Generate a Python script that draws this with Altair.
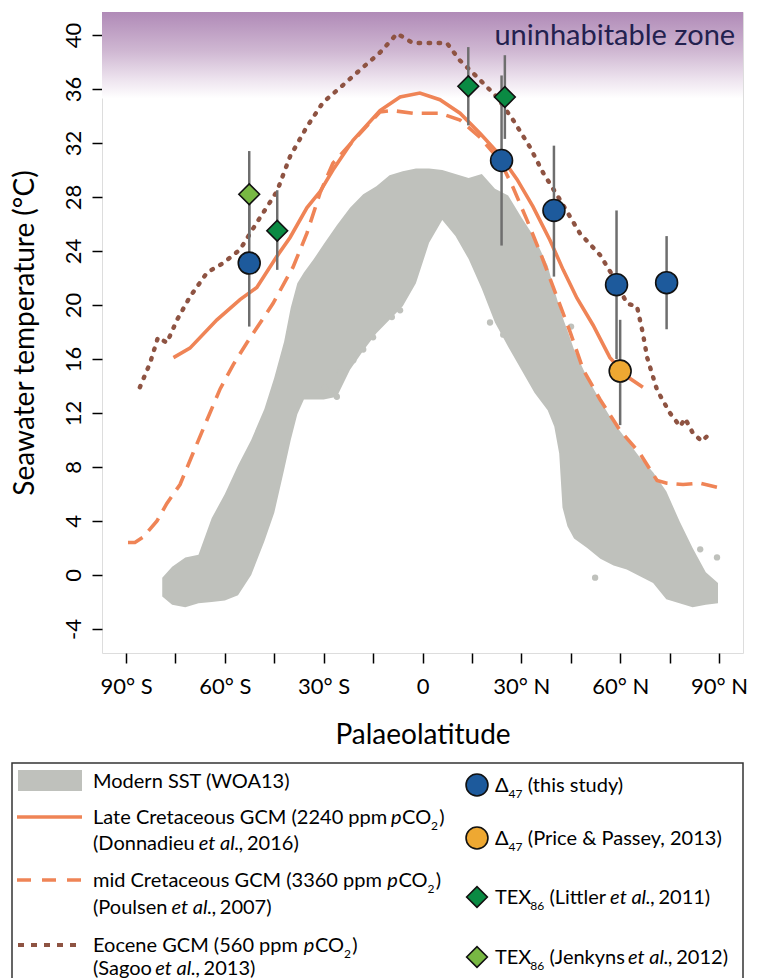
import altair as alt
import pandas as pd

FONT = "Lato"

# ---------------- data ----------------
# Modern SST cloud (WOA13): upper / lower envelope per latitude
cloud_lat = [-79, -76, -72, -68, -64, -60, -56, -52, -48, -45,
             -42, -40, -38, -36, -33, -30, -26, -22, -18, -14,
             -10, -6, -2, 2, 6, 10, 14, 18, 22, 26,
             30, 34, 38, 40, 41.5, 42.5, 44, 46, 50, 54,
             58, 62, 66, 70, 74, 78, 82, 86, 89.7]
cloud_hi = [-0.2, 0.6, 1.3, 1.5, 4.2, 6.0, 8.1, 10.0, 12.3, 14.6,
            17.3, 19.8, 21.6, 22.4, 23.4, 24.5, 25.9, 27.2, 28.2, 28.8,
            29.6, 29.9, 30.1, 30.1, 30.0, 29.7, 29.4, 29.7, 28.6, 28.1,
            26.5, 25.0, 22.9, 21.1, 19.9, 19.1, 18.1, 16.7, 14.6, 12.9,
            11.3, 10.0, 8.7, 7.6, 6.2, 4.0, 2.0, 0.2, -0.6]
cloud_lo = [-1.6, -2.2, -2.4, -2.1, -2.0, -1.9, -1.5, 0.0, 2.5, 4.6,
            7.8, 10.0, 11.9, 13.0, 13.0, 13.0, 13.2, 15.2, 16.6, 17.9,
            18.9, 19.9, 21.6, 24.6, 26.3, 25.1, 23.4, 21.2, 18.7, 16.9,
            15.2, 13.5, 12.2, 11.0, 9.0, 5.0, 3.6, 2.7, 2.0, 1.2,
            0.7, 0.4, -0.1, -0.6, -1.8, -2.1, -2.4, -2.2, -2.1]
# scattered single observations at the cloud edges
stray_lat = [-29.6, -26.0, -25.0, -21.0, -18.0, -15.0, -9.3, -6.8, 20.5, 24.5, 45.1, 52.4, 84.3, 89.4]
stray_t = [13.9, 13.2, 15.0, 15.9, 16.7, 17.6, 19.1, 19.6, 18.7, 17.8, 18.4, -0.2, 1.9, 1.3]

# Late Cretaceous GCM (solid)
late_lat = [-75.6, -70.6, -62.4, -55.4, -50.3, -44.2, -40.2, -35.1, -31.1, -27.2,
            -21.1, -12.9, -6.8, -0.8, 5.3, 11.4, 17.5, 23.5, 28.7, 33.5,
            38.7, 42.7, 46.9, 51.8, 56.9, 62.1, 66.9]
late_t = [16.1, 16.8, 18.9, 20.4, 21.3, 23.6, 25.0, 27.2, 28.4, 30.0,
          32.2, 34.4, 35.4, 35.7, 35.2, 34.2, 32.7, 31.1, 29.3, 27.3,
          24.8, 22.6, 20.5, 18.5, 16.1, 14.7, 13.9]

# mid Cretaceous GCM (dashed)
mid_lat = [-89.4, -87.3, -84.8, -80.6, -77.6, -73.6, -69.7, -65.4, -61.4, -57.4,
           -53.3, -45.4, -39.3, -35.1, -31.1, -27.2, -19.0, -12.9, -9.0, -2.9,
           5.3, 11.4, 17.5, 23.5, 27.5, 31.7, 35.7, 40.8, 44.8, 48.8,
           53.9, 60.0, 66.0, 71.2, 74.2, 79.1, 84.3, 89.4]
mid_t = [2.4, 2.4, 2.8, 4.0, 5.3, 6.7, 9.0, 11.5, 13.8, 15.6,
         17.2, 20.1, 22.8, 25.3, 28.3, 30.5, 32.7, 34.3, 34.4, 34.2,
         34.2, 33.7, 32.4, 30.7, 28.7, 26.3, 23.9, 20.6, 18.0, 15.2,
         13.0, 10.7, 9.0, 7.0, 6.8, 6.7, 6.8, 6.5]

# Eocene GCM (dotted)
eoc_lat = [-85.8, -82.7, -80.3, -77.6, -74.5, -70.6, -65.4, -60.5, -55.4, -50.3,
           -44.2, -40.2, -35.1, -30.2, -25.0, -19.0, -12.9, -7.7, -2.9, 3.2,
           7.4, 11.4, 16.5, 22.6, 27.5, 32.6, 36.6, 41.7, 47.8, 53.9,
           57.9, 62.1, 65.1, 66.9, 68.2, 71.2, 75.1, 78.2, 79.7, 82.1,
           84.8, 87.3]
eoc_t = [13.9, 15.7, 17.6, 17.2, 18.9, 20.6, 22.4, 23.1, 24.1, 26.1,
         28.4, 31.0, 33.2, 35.0, 36.1, 37.4, 38.7, 40.1, 39.4, 39.4,
         39.4, 38.1, 36.9, 35.4, 33.7, 31.7, 29.8, 27.8, 25.3, 23.7,
         22.1, 20.1, 19.9, 17.9, 16.1, 13.7, 12.0, 11.0, 11.6, 10.5,
         9.9, 10.5]

# proxy data: latitude, temperature, error-bar low / high
d47_lat = [-52.6, 24.0, 39.9, 58.9, 74.1]
d47_t = [23.1, 30.7, 27.0, 21.5, 21.65]
d47_lo = [18.4, 24.4, 22.1, 16.0, 18.2]
d47_hi = [27.8, 37.0, 31.8, 27.0, 25.1]

pp_lat = [60.0]
pp_t = [15.1]
pp_lo = [11.1]
pp_hi = [18.9]

lit_lat = [-44.1, 13.9, 25.0]
lit_t = [25.5, 36.2, 35.4]
lit_lo = [22.6, 33.3, 32.3]
lit_hi = [28.5, 39.1, 38.5]

jen_lat = [-52.6]
jen_t = [28.2]
jen_lo = [25.0]
jen_hi = [31.4]

zone_t = [35.3, 41.7]
zone_label = "uninhabitable zone"

x_tick_vals = [-90, -75, -60, -45, -30, -15, 0, 15, 30, 45, 60, 75, 90]
x_label_vals = [-90, -60, -30, 0, 30, 60, 90]
x_label_txt = ["90° S", "60° S", "30° S", "0", "30° N", "60° N", "90° N"]
y_tick_vals = [-4, 0, 4, 8, 12, 16, 20, 24, 28, 32, 36, 40]
y_label_txt = ["-4", "0", "4", "8", "12", "16", "20", "24", "28", "32", "36", "40"]

# ---------------- colours ----------------
C_CLOUD = "#bfc1bc"
C_ORANGE = "#ef8456"
C_BROWN = "#8e5342"
C_BLUE = "#1d5a9c"
C_YELLOW = "#eea832"
C_DGREEN = "#0a8a43"
C_LGREEN = "#78b843"
C_ERR = "#6e6e6e"
C_NAVY = "#23214f"

# ---------------- scales / axes ----------------
XDOM = [-97.29, 97.29]
YDOM = [-5.78, 41.70]
XS = alt.Scale(domain=XDOM, nice=False, zero=False)
YS = alt.Scale(domain=YDOM, nice=False, zero=False)


def expr_from(vals, txts):
    e = "''"
    for v, t in reversed(list(zip(vals, txts))):
        e = f"datum.value == {v} ? '{t}' : ({e})"
    return e


XAX = alt.Axis(values=x_tick_vals, labelExpr=expr_from(x_label_vals, x_label_txt),
               tickSize=10, tickWidth=1.5, tickColor="black", domain=False, grid=False,
               labelFont=FONT, labelFontSize=22, labelColor="black", labelPadding=30,
               labelBaseline="alphabetic", labelAlign="center", labelAngle=0,
               labelOverlap=False, labelBound=False, labelFlush=False,
               title="Palaeolatitude", titleFont=FONT, titleFontSize=28,
               titleFontWeight="normal", titleColor="black", titleX=320.5, titleY=90,
               titleBaseline="alphabetic", titleAlign="center")
YAX = alt.Axis(values=y_tick_vals, labelExpr=expr_from(y_tick_vals, y_label_txt),
               tickSize=10, tickWidth=1.5, tickColor="black", domain=False, grid=False,
               labelFont=FONT, labelFontSize=22, labelColor="black", labelPadding=12,
               labelAngle=270, labelAlign="center", labelBaseline="alphabetic",
               labelOverlap=False, labelBound=False, labelFlush=False,
               title="Seawater temperature (°C)", titleFont=FONT, titleFontSize=28,
               titleFontWeight="normal", titleColor="black", titleAngle=270,
               titleX=-69, titleY=320.5, titleBaseline="alphabetic", titleAlign="center")


def X(f="lat"):
    return alt.X(f"{f}:Q", scale=XS, axis=XAX)


def Y(f="t"):
    return alt.Y(f"{f}:Q", scale=YS, axis=YAX)


# ---------------- main layers ----------------
zone = alt.Chart(pd.DataFrame({"lat": [XDOM[0]], "lat2": [XDOM[1]],
                               "t": [zone_t[0]], "t2": [zone_t[1]]})).mark_rect(
    color=alt.Gradient(gradient="linear",
                       stops=[alt.GradientStop(color="#b08ab7", offset=0),
                              alt.GradientStop(color="#cfb7d2", offset=0.45),
                              alt.GradientStop(color="#efe6f0", offset=0.8),
                              alt.GradientStop(color="#ffffff", offset=1)],
                       x1=0, x2=0, y1=0, y2=1)
).encode(x=X(), x2="lat2:Q", y=Y(), y2="t2:Q")

zone_txt = alt.Chart(pd.DataFrame({"lat": [94.9], "t": [39.26], "txt": [zone_label]})).mark_text(
    align="right", baseline="alphabetic", font=FONT, fontSize=29, color=C_NAVY
).encode(x=X(), y=Y(), text="txt:N")

cloud = alt.Chart(pd.DataFrame({"lat": cloud_lat, "hi": cloud_hi, "lo": cloud_lo})).mark_area(
    color=C_CLOUD, opacity=1
).encode(x=X(), y=Y("hi"), y2="lo:Q")

stray = alt.Chart(pd.DataFrame({"lat": stray_lat, "t": stray_t})).mark_point(
    shape="circle", filled=True, fill=C_CLOUD, size=40, opacity=1, strokeWidth=0
).encode(x=X(), y=Y())

mid = alt.Chart(pd.DataFrame({"lat": mid_lat, "t": mid_t})).mark_line(
    color=C_ORANGE, strokeWidth=3.6, strokeDash=[16, 9]
).encode(x=X(), y=Y())

late = alt.Chart(pd.DataFrame({"lat": late_lat, "t": late_t})).mark_line(
    color=C_ORANGE, strokeWidth=3.6
).encode(x=X(), y=Y())

eoc = alt.Chart(pd.DataFrame({"lat": eoc_lat, "t": eoc_t})).mark_line(
    color=C_BROWN, strokeWidth=4.4, strokeDash=[1.5, 8.5], strokeCap="round"
).encode(x=X(), y=Y())

groups = [
    ("d47", d47_lat, d47_t, d47_lo, d47_hi, "circle", C_BLUE),
    ("pp", pp_lat, pp_t, pp_lo, pp_hi, "circle", C_YELLOW),
    ("lit", lit_lat, lit_t, lit_lo, lit_hi, "diamond", C_DGREEN),
    ("jen", jen_lat, jen_t, jen_lo, jen_hi, "diamond", C_LGREEN),
]
err_rows = []
for g, la, tt, lo, hi, sh, col in groups:
    for a, b, c, d in zip(la, tt, lo, hi):
        err_rows.append({"g": g, "lat": a, "t": b, "lo": c, "hi": d})
err_df = pd.DataFrame(err_rows)

errbars = alt.Chart(err_df).mark_rule(color=C_ERR, strokeWidth=2.5).encode(
    x=X(), y=Y("lo"), y2="hi:Q")

pt_layers = []
for g, la, tt, lo, hi, sh, col in groups:
    pt_layers.append(
        alt.Chart(pd.DataFrame({"lat": la, "t": tt})).mark_point(
            shape=sh, filled=True, fill=col, stroke="#111111", strokeWidth=1.6,
            size=480 if sh == "circle" else 430, opacity=1
        ).encode(x=X(), y=Y())
    )

main = alt.layer(zone, cloud, stray, mid, late, eoc, errbars, *pt_layers, zone_txt)

# ---------------- legend (drawn below the plot in page pixel units) ----------------
LXS = alt.Scale(domain=[102, 743], nice=False, zero=False)
LYS = alt.Scale(domain=[12, 653], nice=False, zero=False, reverse=True)


def LX(f="x"):
    return alt.X(f"{f}:Q", scale=LXS, axis=None)


def LY(f="y"):
    return alt.Y(f"{f}:Q", scale=LYS, axis=None)


W = {' ': 0.193, '(': 0.30, ')': 0.30, ',': 0.22, '.': 0.22, '&': 0.68, '°': 0.40,
     'a': 0.49, 'b': 0.56, 'c': 0.45, 'd': 0.56, 'e': 0.52, 'f': 0.33, 'g': 0.51,
     'h': 0.56, 'i': 0.24, 'j': 0.24, 'k': 0.50, 'l': 0.24, 'm': 0.86, 'n': 0.56,
     'o': 0.56, 'p': 0.56, 'q': 0.56, 'r': 0.37, 's': 0.41, 't': 0.34, 'u': 0.56,
     'v': 0.50, 'w': 0.77, 'x': 0.49, 'y': 0.50, 'z': 0.45,
     'A': 0.68, 'C': 0.67, 'D': 0.74, 'E': 0.56, 'G': 0.72, 'J': 0.38, 'L': 0.49,
     'M': 0.88, 'O': 0.78, 'P': 0.58, 'S': 0.50, 'T': 0.56, 'W': 0.98, 'X': 0.64,
     'Δ': 0.68}
for _d in "0123456789":
    W[_d] = 0.60
FS, SUB = 20, 12

legend_rows = [
    (93, 781, [("Modern SST (WOA13)", "n")]),
    (93, 817, [("Late Cretaceous GCM (2240 ppm ", "n"), ("p", "i"), ("CO", "n"), ("2", "s"), (")", "n")]),
    (93, 843, [("(Donnadieu ", "n"), ("et al.,", "i"), (" 2016)", "n")]),
    (93, 880, [("mid Cretaceous GCM (3360 ppm ", "n"), ("p", "i"), ("CO", "n"), ("2", "s"), (")", "n")]),
    (93, 907, [("(Poulsen ", "n"), ("et al.,", "i"), (" 2007)", "n")]),
    (93, 945, [("Eocene GCM (560 ppm ", "n"), ("p", "i"), ("CO", "n"), ("2", "s"), (")", "n")]),
    (93, 968, [("(Sagoo ", "n"), ("et al.,", "i"), (" 2013)", "n")]),
    (495, 785, [("Δ", "n"), ("47", "s"), (" (this study)", "n")]),
    (495, 838, [("Δ", "n"), ("47", "s"), (" (Price & Passey, 2013)", "n")]),
    (495, 897, [("TEX", "n"), ("86", "s"), (" (Littler ", "n"), ("et al.,", "i"), (" 2011)", "n")]),
    (495, 957, [("TEX", "n"), ("86", "s"), (" (Jenkyns ", "n"), ("et al.,", "i"), (" 2012)", "n")]),
]
seg_rows = []
for x0, yc, parts in legend_rows:
    xx = x0
    base = yc + 7
    for txt, st in parts:
        fs = SUB if st == "s" else FS
        if st == "i" and txt == "p":
            xx += 5
        lead = len(txt) - len(txt.lstrip(" "))
        seg_rows.append({"x": xx + lead * W[" "] * fs, "y": base + (6 if st == "s" else 0),
                         "txt": txt.strip(" "), "st": st})
        xx += sum(W.get(c, 0.55) * fs for c in txt)
        if st == "s":
            xx += 1
seg_df = pd.DataFrame(seg_rows)

leg_text = [
    alt.Chart(seg_df).transform_filter(alt.datum.st == "n").mark_text(
        align="left", baseline="alphabetic", font=FONT, fontSize=FS, color="black"
    ).encode(x=LX(), y=LY(), text="txt:N"),
    alt.Chart(seg_df).transform_filter(alt.datum.st == "i").mark_text(
        align="left", baseline="alphabetic", font=FONT, fontSize=FS, fontStyle="italic", color="black"
    ).encode(x=LX(), y=LY(), text="txt:N"),
    alt.Chart(seg_df).transform_filter(alt.datum.st == "s").mark_text(
        align="left", baseline="alphabetic", font=FONT, fontSize=SUB, color="black"
    ).encode(x=LX(), y=LY(), text="txt:N"),
]

leg_box = alt.Chart(pd.DataFrame({"x": [12], "x2": [743], "y": [763], "y2": [1000]})).mark_rect(
    fillOpacity=0, stroke="#333333", strokeWidth=1.5
).encode(x=LX(), x2="x2:Q", y=LY(), y2="y2:Q")

leg_sst = alt.Chart(pd.DataFrame({"x": [18], "x2": [82], "y": [770], "y2": [791]})).mark_rect(
    color=C_CLOUD
).encode(x=LX(), x2="x2:Q", y=LY(), y2="y2:Q")

leg_solid = alt.Chart(pd.DataFrame({"x": [17], "x2": [82], "y": [817]})).mark_rule(
    color=C_ORANGE, strokeWidth=3.6).encode(x=LX(), x2="x2:Q", y=LY())
leg_dash = alt.Chart(pd.DataFrame({"x": [17], "x2": [82], "y": [880]})).mark_rule(
    color=C_ORANGE, strokeWidth=3.6, strokeDash=[14, 11]).encode(x=LX(), x2="x2:Q", y=LY())
leg_dot = alt.Chart(pd.DataFrame({"x": [18], "x2": [82], "y": [945]})).mark_rule(
    color=C_BROWN, strokeWidth=4, strokeDash=[6, 7]).encode(x=LX(), x2="x2:Q", y=LY())

leg_syms = []
for (g, la, tt, lo, hi, sh, col), yy in zip(groups, [785, 838, 897, 957]):
    leg_syms.append(
        alt.Chart(pd.DataFrame({"x": [477], "y": [yy]})).mark_point(
            shape=sh, filled=True, fill=col, stroke="#111111", strokeWidth=1.6,
            size=480 if sh == "circle" else 430, opacity=1
        ).encode(x=LX(), y=LY())
    )

legend = alt.layer(leg_box, leg_sst, leg_solid, leg_dash, leg_dot, *leg_syms, *leg_text)

chart = alt.layer(main, legend).resolve_scale(x="independent", y="independent").properties(
    width=641, height=641,
    autosize=alt.AutoSizeParams(type="none"),
    padding={"left": 102, "top": 12, "right": 16, "bottom": 325},
).configure_view(stroke="black", strokeWidth=2).configure(font=FONT)

chart.save("out.html", embed_options={"renderer": "svg", "actions": False})
